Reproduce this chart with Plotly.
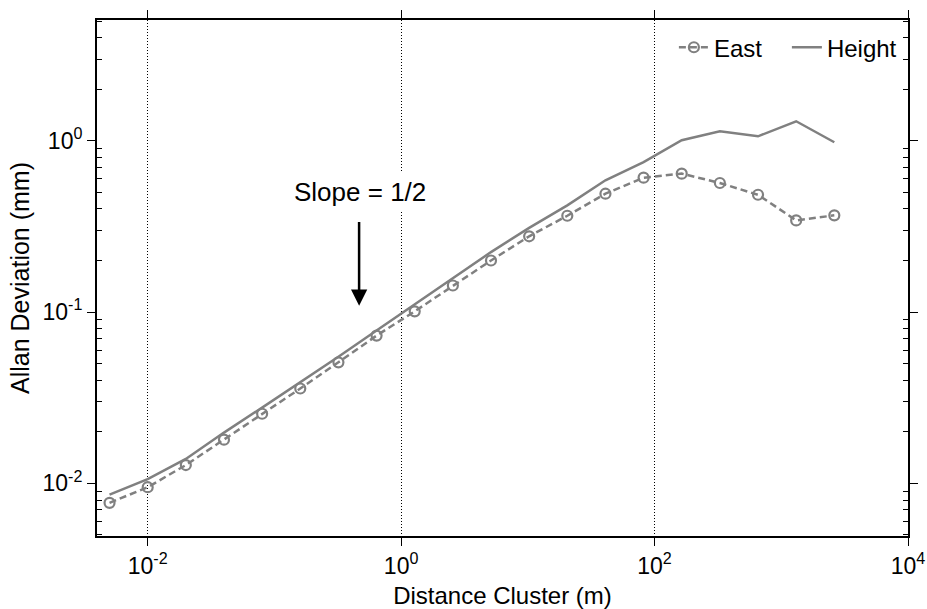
import math
import plotly.graph_objects as go

# ---- data ----
distance_m = [0.005, 0.01, 0.02, 0.04, 0.08, 0.16, 0.32, 0.64, 1.28, 2.56,
              5.12, 10.24, 20.48, 40.96, 81.92, 163.84, 327.68, 655.36, 1310.72, 2621.44]
east_mm = [0.0077, 0.0095, 0.0128, 0.0180, 0.0255, 0.0358, 0.0509, 0.0729, 0.101, 0.143,
           0.200, 0.277, 0.365, 0.491, 0.609, 0.643, 0.567, 0.484, 0.343, 0.367]
height_mm = [0.0086, 0.0106, 0.0139, 0.0198, 0.0277, 0.0389, 0.0549, 0.078, 0.111, 0.157,
             0.224, 0.31, 0.42, 0.588, 0.751, 1.007, 1.137, 1.062, 1.30, 0.98]

x_tick_vals = [0.01, 1, 100, 10000]
x_tick_text = ["10<sup>-2</sup>", "10<sup>0</sup>", "10<sup>2</sup>", "10<sup>4</sup>"]
y_tick_vals = [0.01, 0.1, 1]
y_tick_text = ["10<sup>-2</sup>", "10<sup>-1</sup>", "10<sup>0</sup>"]
y_minor_vals = [m * 10 ** e for e in (-3, -2, -1, 0) for m in range(2, 10)]

slope_label = "Slope = 1/2"
slope_text_pos = (0.47, 0.5)
arrow_tail = (0.466, 0.343)
arrow_tip = (0.466, 0.109)

FONT = "Liberation Sans, Arial, sans-serif"
GRAY = "#808080"

fig = go.Figure()
fig.add_trace(go.Scatter(
    x=distance_m, y=east_mm, name="East", mode="lines+markers",
    line=dict(color=GRAY, width=2.5, dash="7px,4px"),
    marker=dict(symbol="circle-open", size=10, color=GRAY, line=dict(width=2.2, color=GRAY)),
))
fig.add_trace(go.Scatter(
    x=distance_m, y=height_mm, name="Height", mode="lines",
    line=dict(color=GRAY, width=2.5),
))

fig.add_annotation(
    x=math.log10(slope_text_pos[0]), y=math.log10(slope_text_pos[1]), xref="x", yref="y",
    text=slope_label, showarrow=False, bgcolor="white",
    font=dict(family=FONT, size=26, color="black"), borderpad=4,
)
fig.add_annotation(
    x=math.log10(arrow_tip[0]), y=math.log10(arrow_tip[1]), xref="x", yref="y",
    ax=math.log10(arrow_tail[0]), ay=math.log10(arrow_tail[1]), axref="x", ayref="y",
    text="", showarrow=True, arrowhead=2, arrowsize=1.3, arrowwidth=2.5, arrowcolor="black",
)

# white backing behind the legend (hides the grid line there, as in the original)
fig.add_shape(type="rect", xref="paper", yref="paper", x0=0.665, x1=0.998, y0=0.909, y1=1.0,
              fillcolor="white", line=dict(width=0), layer="between")

fig.update_layout(
    width=927, height=609,
    margin=dict(l=97, r=19, t=20, b=73, autoexpand=False),
    paper_bgcolor="white", plot_bgcolor="white",
    font=dict(family=FONT, color="black"),
    showlegend=True,
    legend=dict(orientation="h", x=0.99, xanchor="right", y=0.99, yanchor="top",
                bgcolor="rgba(255,255,255,0)", font=dict(family=FONT, size=24, color="black"),
                itemwidth=30, entrywidth=68, entrywidthmode="pixels"),
    xaxis=dict(
        type="log", range=[-2.4, 4.0],
        tickvals=x_tick_vals, ticktext=x_tick_text,
        tickfont=dict(family=FONT, size=23, color="black"),
        ticks="outside", ticklen=8, tickwidth=1, tickcolor="black",
        showline=True, linecolor="black", linewidth=2, mirror="ticks",
        showgrid=True, gridcolor="black", gridwidth=1, griddash="1px,2px",
        zeroline=False, automargin=False,
        title=dict(text="Distance Cluster (m)", font=dict(family=FONT, size=24, color="black"), standoff=10),
    ),
    yaxis=dict(
        type="log", range=[-2.307, 0.705],
        tickvals=y_tick_vals, ticktext=y_tick_text,
        tickfont=dict(family=FONT, size=23, color="black"),
        ticks="outside", ticklen=8, tickwidth=1, tickcolor="black",
        showline=True, linecolor="black", linewidth=2, mirror="ticks",
        showgrid=False, zeroline=False, automargin=False,
        minor=dict(tickvals=y_minor_vals, ticks="inside", ticklen=5, tickwidth=1,
                   tickcolor="black", showgrid=False),
        title=dict(text="Allan Deviation (mm)", font=dict(family=FONT, size=25, color="black"), standoff=6),
    ),
)

fig.write_html("out.html", config={"displayModeBar": False},
               post_script="document.body.style.margin='0px';")
